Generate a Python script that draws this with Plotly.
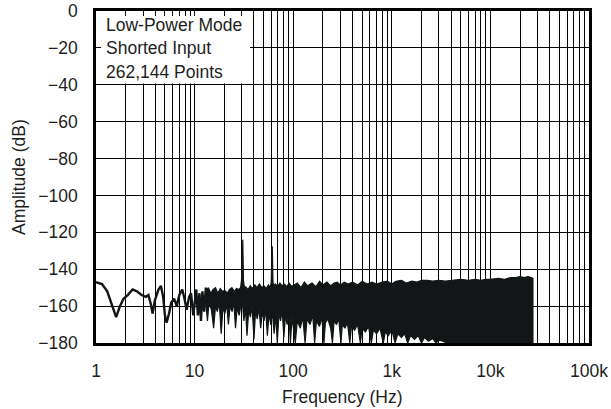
import plotly.graph_objects as go

# ---------------- data ----------------
# Low-frequency part of the spectrum, drawn as a line (Hz, dB)
lf_freq = [1.0, 1.15, 1.3, 1.45, 1.6, 1.75, 1.9, 2.1, 2.35, 2.6, 2.9, 3.2, 3.4, 3.6,
           3.75, 3.95, 4.3, 4.55, 4.8, 5.0, 5.2, 5.5, 5.8, 6.2, 6.6, 7.0, 7.5, 7.9,
           8.3, 8.8, 9.2, 9.7, 10.0, 10.4, 10.8, 11.2, 11.6, 12.0, 12.5, 13.0, 13.5,
           14.0]
lf_db = [-147, -148, -152, -159, -166, -160, -156, -154, -151, -152, -154, -155, -154, -159,
         -164, -157, -151, -149, -155, -165, -169, -164, -158, -156, -160, -154, -151, -156,
         -162, -155, -153, -165, -158, -151, -165, -153, -168, -152, -163, -150, -160,
         -154]

# Dense part of the spectrum: upper envelope (Hz, dB)
up_freq = [13.0, 13.8, 14.6, 15.4, 16.3, 17.2, 18.2, 19.2, 20.3, 21.4, 22.6, 23.9,
           25.2, 26.6, 28.1, 29.3, 29.9, 30.3, 30.8, 31.3, 32.0, 33.0, 34.8, 36.7, 38.7,
           40.8, 43.0, 45.4, 47.9, 50.5, 53.2, 56.1, 58.6, 59.8, 60.6, 61.3, 62.4, 63.5,
           65.9, 69.5, 73.3, 77.3, 81.5, 86.0, 90.7, 95.6,
           100, 110, 120, 130, 140, 155, 170, 185, 200, 220, 240, 260, 280, 300, 330,
           360, 400, 450, 500, 560, 630, 700, 800, 900, 1000, 1100, 1250, 1400, 1600,
           1800, 2000, 2300, 2600, 3000, 3500, 4000, 4500, 5000, 6000, 7000, 8000,
           9000, 10000, 12000, 14000, 16000, 18000, 20000, 22000, 24000, 26000, 27000]
up_db = [-152, -150, -153, -151, -150, -153, -150.5, -152, -151.5, -153, -151, -150,
         -152, -150.5, -151, -150, -146, -124.5, -124, -146, -150, -149.5, -151, -149, -150.5,
         -148.5, -150, -148, -150, -149, -150.5, -148.5, -150, -147, -128, -127.5, -147, -149,
         -148, -149.5, -147.5, -149, -148, -149.5, -147.5, -149,
         -149, -147.5, -150, -147, -149, -147.5, -149.5, -146.5, -148.5, -147, -149, -147.5,
         -147, -148.5, -147, -148, -147, -148.5, -146.5, -148, -147, -148, -147, -146.5,
         -148, -146.5, -146, -147.5, -146.5, -147, -146, -146, -146.5, -146, -146.5,
         -146, -145.5, -145.5, -146, -145.5, -146, -145.5, -145.5, -145, -145.5, -144.5,
         -144.5, -144, -144.5, -144, -144.5, -145]

# Dense part of the spectrum: lower envelope (Hz, dB)
lo_freq = [13.0, 13.5, 14.0, 14.8, 15.6, 16.3, 17.0, 17.8, 18.6, 19.4, 20.3, 21.2,
           22.0, 22.9, 24.0, 25.0, 26.0, 27.0, 28.3, 29.4, 30.5, 31.6, 32.8, 34.0,
           35.4, 36.8, 38.3, 40.0, 41.5, 43.2, 45.0, 46.8, 48.7, 50.6, 52.6, 54.7,
           56.9, 59.2, 61.5, 64.0, 66.5, 69.0, 71.7, 74.5, 77.4, 80.4, 83.5, 86.8,
           90.2, 93.7, 97.3,
           100, 105, 110, 118, 125, 132, 138, 148, 158, 165, 172, 185, 195, 205, 212,
           225, 240, 250, 260, 275, 290, 305, 315, 335, 355, 375, 390, 420, 450, 480,
           500, 540, 580, 620, 650, 700, 760, 820, 860, 920, 1000, 1080, 1150, 1250,
           1350, 1450, 1550, 1700, 1850, 2000, 2150, 2350, 2600, 2800, 3000, 3300,
           3600, 27000]
lo_db = [-158, -168, -158, -162, -172, -160, -163, -158, -175, -161, -164, -159,
         -170, -160, -163, -158, -172, -161, -165, -160, -158, -168, -161, -176,
         -162, -166, -160, -178, -163, -167, -161, -172, -163, -168, -162, -176,
         -164, -170, -163, -175, -165, -180, -164, -168, -162, -177, -165, -170,
         -164, -180, -166,
         -170, -180, -168, -172, -166, -180, -167, -170, -165, -180, -168, -171, -166,
         -180, -169, -167, -172, -180, -168, -170, -167, -180, -170, -172, -169, -180,
         -171, -173, -170, -180, -172, -174, -171, -180, -173, -175, -172, -180, -174,
         -176, -173, -180, -175, -177, -175, -180, -176, -178, -176, -180, -177, -179,
         -177.5, -180, -178.5, -179, -180, -180]

x_tickvals = [1, 10, 100, 1000, 10000, 100000]
x_ticktext = ["1", "10", "100", "1k", "10k", "100k"]
y_tickvals = [0, -20, -40, -60, -80, -100, -120, -140, -160, -180]

note_lines = ["Low-Power Mode", "Shorted Input", "262,144 Points"]

# ---------------- figure ----------------
INK = "#121616"
FONT = "Liberation Sans, Arial, Helvetica, sans-serif"
TXT = "#1e1e1e"
FS = 17.5

fig = go.Figure()

band_x = up_freq + lo_freq[::-1]
band_y = up_db + lo_db[::-1]
fig.add_trace(go.Scatter(x=band_x, y=band_y, mode="lines", fill="toself",
                         fillcolor=INK, line=dict(color=INK, width=1.2),
                         hoverinfo="skip", showlegend=False))
fig.add_trace(go.Scatter(x=lf_freq, y=lf_db, mode="lines",
                         line=dict(color=INK, width=2.4),
                         showlegend=False))

minor_vals = [m * 10 ** d for d in range(0, 5) for m in range(2, 10)]

fig.update_xaxes(type="log", range=[0, 5], automargin=False,
                 tickvals=x_tickvals, ticktext=x_ticktext,
                 showgrid=True, gridcolor="#000000", gridwidth=1,
                 minor=dict(tickvals=minor_vals, showgrid=True,
                            gridcolor="#000000", gridwidth=1, ticks=""),
                 ticks="", showline=True, linecolor="#000000", linewidth=2.5,
                 mirror=True, zeroline=False,
                 tickfont=dict(family=FONT, size=FS, color=TXT),
                 ticklabelstandoff=10)
fig.update_yaxes(range=[-180, 0], tickvals=y_tickvals, automargin=False,
                 showgrid=True, gridcolor="#000000", gridwidth=1,
                 ticks="", showline=True, linecolor="#000000", linewidth=2.5,
                 mirror=True, zeroline=False,
                 tickfont=dict(family=FONT, size=FS, color=TXT),
                 ticklabelstandoff=12)

L, R, T, B = 96, 589, 11, 343
W, H = 611, 409

def px_x(p):
    return (p - L) / (R - L)

def px_y(p):
    return (B - p) / (B - T)

# white box hiding the grid behind the note text
fig.add_shape(type="rect", xref="paper", yref="paper",
              x0=px_x(101), x1=px_x(250), y0=px_y(83.5), y1=px_y(16),
              fillcolor="white", line=dict(width=0), layer="above")

for txt, yc in zip(note_lines, [25, 48.5, 71.5]):
    fig.add_annotation(text=txt, xref="paper", yref="paper",
                       x=px_x(104), y=px_y(yc), xanchor="left", yanchor="middle",
                       showarrow=False, font=dict(family=FONT, size=FS, color=TXT))

fig.add_annotation(text="Frequency (Hz)", xref="paper", yref="paper",
                   x=0.5, y=px_y(397), xanchor="center", yanchor="middle",
                   showarrow=False, font=dict(family=FONT, size=FS, color=TXT))
fig.add_annotation(text="Amplitude (dB)", xref="paper", yref="paper",
                   x=px_x(19), y=0.5, xanchor="center", yanchor="middle",
                   textangle=-90, showarrow=False,
                   font=dict(family=FONT, size=FS, color=TXT))

fig.update_layout(width=W, height=H,
                  margin=dict(l=L, r=W - R, t=T, b=H - B),
                  paper_bgcolor="white", plot_bgcolor="white",
                  showlegend=False)

fig.write_html("out.html",
               config={"displayModeBar": False},
               post_script="document.body.style.margin='0';"
                           "document.body.style.overflow='hidden';")
